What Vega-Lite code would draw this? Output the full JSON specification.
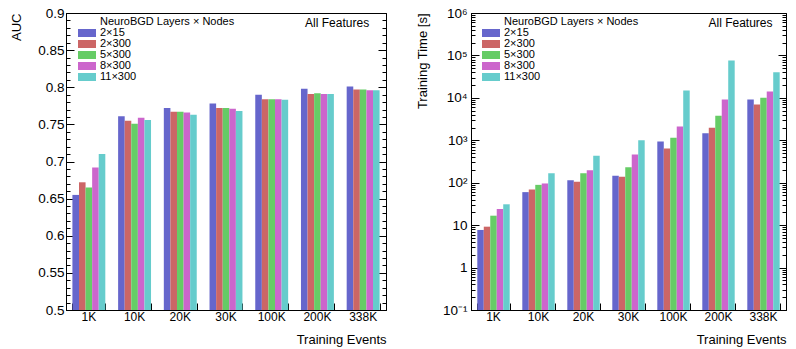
{
  "$schema": "https://vega.github.io/schema/vega-lite/v6.json",
  "background": "white",
  "padding": {"left": 10, "top": 5, "right": 4, "bottom": 2},
  "config": {
    "font": "Liberation Sans",
    "view": {"stroke": "#000", "strokeWidth": 1},
    "axis": {"labelColor": "#000", "titleColor": "#000", "domainColor": "#000", "tickColor": "#000", "grid": false, "titleFontWeight": "normal", "labelFont": "Liberation Sans", "titleFont": "Liberation Sans"},
    "legend": {"labelColor": "#000", "titleColor": "#000"}
  },
  "datasets": {
    "main": [
      {"events": "1K", "config": "2×15", "auc": 0.655, "time": 7.7},
      {"events": "1K", "config": "2×300", "auc": 0.672, "time": 9.2},
      {"events": "1K", "config": "5×300", "auc": 0.665, "time": 16.7},
      {"events": "1K", "config": "8×300", "auc": 0.692, "time": 24},
      {"events": "1K", "config": "11×300", "auc": 0.710, "time": 31},
      {"events": "10K", "config": "2×15", "auc": 0.761, "time": 60},
      {"events": "10K", "config": "2×300", "auc": 0.755, "time": 69},
      {"events": "10K", "config": "5×300", "auc": 0.751, "time": 89},
      {"events": "10K", "config": "8×300", "auc": 0.759, "time": 96},
      {"events": "10K", "config": "11×300", "auc": 0.756, "time": 168},
      {"events": "20K", "config": "2×15", "auc": 0.772, "time": 115},
      {"events": "20K", "config": "2×300", "auc": 0.767, "time": 105},
      {"events": "20K", "config": "5×300", "auc": 0.767, "time": 168},
      {"events": "20K", "config": "8×300", "auc": 0.766, "time": 198},
      {"events": "20K", "config": "11×300", "auc": 0.763, "time": 430},
      {"events": "30K", "config": "2×15", "auc": 0.778, "time": 145},
      {"events": "30K", "config": "2×300", "auc": 0.772, "time": 138},
      {"events": "30K", "config": "5×300", "auc": 0.772, "time": 233},
      {"events": "30K", "config": "8×300", "auc": 0.771, "time": 460},
      {"events": "30K", "config": "11×300", "auc": 0.768, "time": 1000},
      {"events": "100K", "config": "2×15", "auc": 0.790, "time": 930},
      {"events": "100K", "config": "2×300", "auc": 0.784, "time": 640},
      {"events": "100K", "config": "5×300", "auc": 0.784, "time": 1150},
      {"events": "100K", "config": "8×300", "auc": 0.784, "time": 2100},
      {"events": "100K", "config": "11×300", "auc": 0.783, "time": 15000},
      {"events": "200K", "config": "2×15", "auc": 0.798, "time": 1460},
      {"events": "200K", "config": "2×300", "auc": 0.791, "time": 1980},
      {"events": "200K", "config": "5×300", "auc": 0.792, "time": 3800},
      {"events": "200K", "config": "8×300", "auc": 0.791, "time": 9200},
      {"events": "200K", "config": "11×300", "auc": 0.791, "time": 76000},
      {"events": "338K", "config": "2×15", "auc": 0.801, "time": 9200},
      {"events": "338K", "config": "2×300", "auc": 0.797, "time": 7000},
      {"events": "338K", "config": "5×300", "auc": 0.797, "time": 10000},
      {"events": "338K", "config": "8×300", "auc": 0.796, "time": 14200},
      {"events": "338K", "config": "11×300", "auc": 0.796, "time": 40000}
    ]
  },
  "spacing": 28,
  "resolve": {
    "scale": {"x": "independent", "y": "independent", "xOffset": "independent", "color": "independent"},
    "legend": {"color": "independent"}
  },
  "hconcat": [
    {
      "width": 320,
      "height": 297,
      "resolve": {"axis": {"x": "independent", "y": "independent"}},
      "layer": [
        {
          "data": {"name": "main"},
          "mark": {"type": "bar"},
          "encoding": {
            "x": {
              "field": "events", "type": "nominal",
              "scale": {"domain": ["1K", "10K", "20K", "30K", "100K", "200K", "338K"], "paddingInner": 0.28, "paddingOuter": 0.14},
              "axis": {"title": "Training Events", "titleAnchor": "end", "titleFontSize": 13, "titlePadding": 11, "labelAngle": 0, "labelFontSize": 12, "labelPadding": 1, "ticks": false, "orient": "bottom"}
            },
            "xOffset": {"field": "config", "type": "nominal", "scale": {"domain": ["2×15", "2×300", "5×300", "8×300", "11×300"]}},
            "y": {
              "field": "auc", "type": "quantitative",
              "scale": {"domain": [0.5, 0.9], "zero": false, "nice": false},
              "axis": {"title": "AUC", "titleAnchor": "end", "titleFontSize": 13, "titlePadding": 14, "values": [0.5, 0.55, 0.6, 0.65, 0.7, 0.75, 0.8, 0.85, 0.9], "format": "~g", "ticks": false, "labelFontSize": 13.5, "labelPadding": 2, "orient": "left"}
            },
            "y2": {"datum": 0.5},
            "color": {
              "field": "config", "type": "nominal",
              "scale": {"domain": ["2×15", "2×300", "5×300", "8×300", "11×300"], "range": ["#6666cc", "#cc6666", "#66cc66", "#cc66cc", "#66cccc"]},
              "legend": {"orient": "none", "legendX": 12, "legendY": 3, "title": "NeuroBGD Layers × Nodes", "titleFontSize": 11, "titleFontWeight": "normal", "labelFontSize": 11, "symbolType": "M-1,-0.45H1V0.45H-1Z", "symbolSize": 324, "symbolStrokeWidth": 0, "symbolOpacity": 1, "clipHeight": 10, "rowPadding": 0, "labelOffset": 4, "titlePadding": 1, "padding": 0, "encode": {"title": {"update": {"dx": {"value": 22}}}}}
            }
          }
        },
        {
          "data": {"values": [{}]},
          "mark": {"type": "point", "opacity": 0},
          "encoding": {
            "x": {"datum": "1K", "axis": {"orient": "bottom", "tickBand": "extent", "labels": false, "domain": false, "title": null, "ticks": true, "tickSize": 7, "offset": -7}},
            "y": {"datum": 0.7, "axis": {"orient": "left", "values": [0.5, 0.55, 0.6, 0.65, 0.7, 0.75, 0.8, 0.85, 0.9], "labels": false, "domain": false, "title": null, "ticks": true, "tickSize": 8, "offset": -8}}
          }
        },
        {
          "data": {"values": [{}]},
          "mark": {"type": "point", "opacity": 0},
          "encoding": {
            "x": {"datum": "1K", "axis": null},
            "y": {"datum": 0.7, "axis": {"orient": "left", "values": [0.5, 0.51, 0.52, 0.53, 0.54, 0.55, 0.56, 0.57, 0.58, 0.59, 0.6, 0.61, 0.62, 0.63, 0.64, 0.65, 0.66, 0.67, 0.68, 0.69, 0.7, 0.71, 0.72, 0.73, 0.74, 0.75, 0.76, 0.77, 0.78, 0.79, 0.8, 0.81, 0.82, 0.83, 0.84, 0.85, 0.86, 0.87, 0.88, 0.89, 0.9], "labels": false, "domain": false, "title": null, "ticks": true, "tickSize": 4, "offset": -4}}
          }
        },
        {
          "data": {"values": [{}]},
          "mark": {"type": "point", "opacity": 0},
          "encoding": {
            "x": {"datum": "1K", "axis": null},
            "y": {"datum": 0.7, "axis": {"orient": "right", "values": [0.5, 0.55, 0.6, 0.65, 0.7, 0.75, 0.8, 0.85, 0.9], "labels": false, "domain": false, "title": null, "ticks": true, "tickSize": 8, "offset": -8}}
          }
        },
        {
          "data": {"values": [{}]},
          "mark": {"type": "point", "opacity": 0},
          "encoding": {
            "x": {"datum": "1K", "axis": null},
            "y": {"datum": 0.7, "axis": {"orient": "right", "values": [0.5, 0.51, 0.52, 0.53, 0.54, 0.55, 0.56, 0.57, 0.58, 0.59, 0.6, 0.61, 0.62, 0.63, 0.64, 0.65, 0.66, 0.67, 0.68, 0.69, 0.7, 0.71, 0.72, 0.73, 0.74, 0.75, 0.76, 0.77, 0.78, 0.79, 0.8, 0.81, 0.82, 0.83, 0.84, 0.85, 0.86, 0.87, 0.88, 0.89, 0.9], "labels": false, "domain": false, "title": null, "ticks": true, "tickSize": 4, "offset": -4}}
          }
        },
        {
          "data": {"values": [{"t": "All Features"}]},
          "mark": {"type": "text", "align": "right", "baseline": "middle", "fontSize": 12, "font": "Liberation Sans", "color": "#000", "dx": 6},
          "encoding": {
            "text": {"field": "t"},
            "x": {"datum": "338K", "axis": null},
            "y": {"datum": 0.887, "axis": null}
          }
        }
      ]
    },
    {
      "width": 315,
      "height": 297,
      "resolve": {"axis": {"x": "independent", "y": "independent"}},
      "layer": [
        {
          "data": {"name": "main"},
          "mark": {"type": "bar"},
          "encoding": {
            "x": {
              "field": "events", "type": "nominal",
              "scale": {"domain": ["1K", "10K", "20K", "30K", "100K", "200K", "338K"], "paddingInner": 0.28, "paddingOuter": 0.14},
              "axis": {"title": "Training Events", "titleAnchor": "end", "titleFontSize": 13, "titlePadding": 11, "labelAngle": 0, "labelFontSize": 12, "labelPadding": 1, "ticks": false, "orient": "bottom"}
            },
            "xOffset": {"field": "config", "type": "nominal", "scale": {"domain": ["2×15", "2×300", "5×300", "8×300", "11×300"]}},
            "y": {
              "field": "time", "type": "quantitative",
              "scale": {"type": "log", "domain": [0.1, 1000000], "nice": false},
              "axis": {"title": "Training Time [s]", "titleAnchor": "end", "titleFontSize": 13, "titlePadding": 13, "values": [0.1, 1, 10, 100, 1000, 10000, 100000, 1000000], "labelExpr": "datum.value < 0.5 ? '10⁻¹' : datum.value < 5 ? '1' : datum.value < 50 ? '10' : datum.value < 500 ? '10²' : datum.value < 5000 ? '10³' : datum.value < 50000 ? '10⁴' : datum.value < 500000 ? '10⁵' : '10⁶'", "ticks": false, "labelFontSize": 13.5, "labelPadding": 4, "orient": "left"}
            },
            "y2": {"datum": 0.1},
            "color": {
              "field": "config", "type": "nominal",
              "scale": {"domain": ["2×15", "2×300", "5×300", "8×300", "11×300"], "range": ["#6666cc", "#cc6666", "#66cc66", "#cc66cc", "#66cccc"]},
              "legend": {"orient": "none", "legendX": 11, "legendY": 3, "title": "NeuroBGD Layers × Nodes", "titleFontSize": 11, "titleFontWeight": "normal", "labelFontSize": 11, "symbolType": "M-1,-0.45H1V0.45H-1Z", "symbolSize": 324, "symbolStrokeWidth": 0, "symbolOpacity": 1, "clipHeight": 10, "rowPadding": 0, "labelOffset": 4, "titlePadding": 1, "padding": 0, "encode": {"title": {"update": {"dx": {"value": 22}}}}}
            }
          }
        },
        {
          "data": {"values": [{}]},
          "mark": {"type": "point", "opacity": 0},
          "encoding": {
            "x": {"datum": "1K", "axis": {"orient": "bottom", "tickBand": "extent", "labels": false, "domain": false, "title": null, "ticks": true, "tickSize": 7, "offset": -7}},
            "y": {"datum": 10, "axis": {"orient": "left", "values": [0.1, 1, 10, 100, 1000, 10000, 100000, 1000000], "labels": false, "domain": false, "title": null, "ticks": true, "tickSize": 8, "offset": -8}}
          }
        },
        {
          "data": {"values": [{}]},
          "mark": {"type": "point", "opacity": 0},
          "encoding": {
            "x": {"datum": "1K", "axis": null},
            "y": {"datum": 10, "axis": {"orient": "left", "values": [0.1, 0.2, 0.3, 0.4, 0.5, 0.6, 0.7, 0.8, 0.9, 1, 2, 3, 4, 5, 6, 7, 8, 9, 10, 20, 30, 40, 50, 60, 70, 80, 90, 100, 200, 300, 400, 500, 600, 700, 800, 900, 1000, 2000, 3000, 4000, 5000, 6000, 7000, 8000, 9000, 10000, 20000, 30000, 40000, 50000, 60000, 70000, 80000, 90000, 100000, 200000, 300000, 400000, 500000, 600000, 700000, 800000, 900000, 1000000], "labels": false, "domain": false, "title": null, "ticks": true, "tickSize": 4, "offset": -4}}
          }
        },
        {
          "data": {"values": [{}]},
          "mark": {"type": "point", "opacity": 0},
          "encoding": {
            "x": {"datum": "1K", "axis": null},
            "y": {"datum": 10, "axis": {"orient": "right", "values": [0.1, 1, 10, 100, 1000, 10000, 100000, 1000000], "labels": false, "domain": false, "title": null, "ticks": true, "tickSize": 8, "offset": -8}}
          }
        },
        {
          "data": {"values": [{}]},
          "mark": {"type": "point", "opacity": 0},
          "encoding": {
            "x": {"datum": "1K", "axis": null},
            "y": {"datum": 10, "axis": {"orient": "right", "values": [0.1, 0.2, 0.3, 0.4, 0.5, 0.6, 0.7, 0.8, 0.9, 1, 2, 3, 4, 5, 6, 7, 8, 9, 10, 20, 30, 40, 50, 60, 70, 80, 90, 100, 200, 300, 400, 500, 600, 700, 800, 900, 1000, 2000, 3000, 4000, 5000, 6000, 7000, 8000, 9000, 10000, 20000, 30000, 40000, 50000, 60000, 70000, 80000, 90000, 100000, 200000, 300000, 400000, 500000, 600000, 700000, 800000, 900000, 1000000], "labels": false, "domain": false, "title": null, "ticks": true, "tickSize": 4, "offset": -4}}
          }
        },
        {
          "data": {"values": [{"t": "All Features"}]},
          "mark": {"type": "text", "align": "right", "baseline": "middle", "fontSize": 12, "font": "Liberation Sans", "color": "#000", "dx": 9},
          "encoding": {
            "text": {"field": "t"},
            "x": {"datum": "338K", "axis": null},
            "y": {"datum": 580000, "axis": null}
          }
        }
      ]
    }
  ]
}
